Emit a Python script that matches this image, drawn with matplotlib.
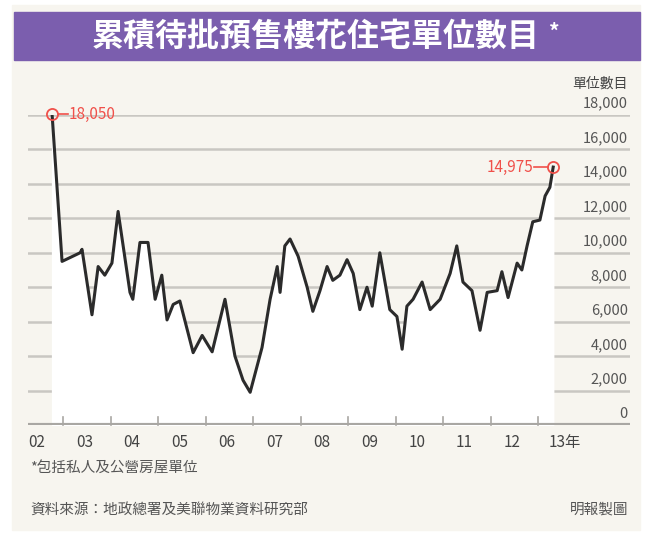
import matplotlib
matplotlib.use('Agg')
import matplotlib.pyplot as plt
from matplotlib.patches import Rectangle

plt.rcParams['font.family'] = ['Noto Sans CJK JP', 'Noto Sans CJK TC', 'DejaVu Sans']

# decimal year, units
years = [2002.77, 2002.98, 2003.36, 2003.40, 2003.61, 2003.74, 2003.88, 2004.03,
         2004.16, 2004.41, 2004.47, 2004.62, 2004.79, 2004.94, 2005.08, 2005.19,
         2005.32, 2005.46, 2005.74, 2005.93, 2006.14, 2006.41, 2006.62, 2006.79,
         2006.94, 2007.19, 2007.36, 2007.51, 2007.57, 2007.67, 2007.78, 2007.95,
         2008.14, 2008.26, 2008.41, 2008.56, 2008.68, 2008.83, 2008.98, 2009.11,
         2009.25, 2009.40, 2009.51, 2009.67, 2009.88, 2010.03, 2010.14, 2010.24,
         2010.37, 2010.56, 2010.73, 2010.94, 2011.15, 2011.29, 2011.42, 2011.61,
         2011.78, 2011.93, 2012.14, 2012.24, 2012.37, 2012.56, 2012.66, 2012.77,
         2012.89, 2013.04, 2013.15, 2013.25, 2013.32]
units = [18050, 9500, 10000, 10200, 6400, 9200, 8700, 9400,
         12400, 7700, 7300, 10600, 10600, 7300, 8700, 6100,
         7000, 7200, 4200, 5200, 4250, 7300, 4000, 2600,
         1900, 4500, 7300, 9200, 7700, 10400, 10800, 9800,
         8000, 6600, 7800, 9200, 8400, 8700, 9600, 8800,
         6700, 8000, 6900, 10000, 6700, 6300, 4400, 6900,
         7300, 8300, 6700, 7300, 8800, 10400, 8300, 7800,
         5500, 7700, 7800, 8900, 7400, 9400, 9000, 10400,
         11800, 11900, 13300, 13800, 14975]
yticks = [0, 2000, 4000, 6000, 8000, 10000, 12000, 14000, 16000, 18000]
year_labels = ['02', '03', '04', '05', '06', '07', '08', '09', '10', '11', '12', '13年']

cream = '#f7f5ef'
red = '#f0504a'
W, H = 648, 540

fig = plt.figure(figsize=(6.48, 5.4), dpi=100)

# background panel and title band
bg = fig.add_axes([0, 0, 1, 1], zorder=0)
bg.set_xlim(0, W)
bg.set_ylim(H, 0)
bg.axis('off')
bg.add_patch(Rectangle((12, 5), 628, 525, color=cream))
bg.add_patch(Rectangle((14, 12), 626, 48, color='#7b5eae'))
bg.text(316, 37, '累積待批預售樓花住宅單位數目', color='white', fontsize=23,
        fontweight='bold', ha='center', va='center')
bg.text(554, 32, '*', color='white', fontsize=15, fontweight='bold', ha='center', va='center')
bg.text(30, 468, '*包括私人及公營房屋單位', fontsize=10.5, color='#555555', va='center')
bg.text(30, 510, '資料來源：地政總署及美聯物業資料研究部', fontsize=10.5,
        color='#555555', va='center')
bg.text(628, 510, '明報製圖', fontsize=10.5, color='#555555', va='center', ha='right')

ax = fig.add_axes([28 / W, (H - 425) / H, 602 / W, 310 / H], zorder=1)
ax.set_facecolor(cream)
x0 = 2003 + (28 - 63) / 47.5
x1 = 2003 + (630 - 63) / 47.5
ax.set_xlim(x0, x1)
ax.set_ylim(0, 18000)
for s in ax.spines.values():
    s.set_visible(False)
ax.set_xticks([])
ax.set_yticks([])

for v in yticks[1:]:
    ax.axhline(v, color='#c9c7c2', lw=1.8, zorder=1)
    ax.text(x1 - 0.05, v + 250, f'{v:,}', ha='right', va='bottom', fontsize=10.5,
            color='#555555', zorder=3)
ax.text(x1 - 0.05, 250, '0', ha='right', va='bottom', fontsize=10.5, color='#555555', zorder=3)
ax.text(x1 - 0.05, 19400, '單位數目', ha='right', va='bottom', fontsize=10,
        color='#444444', clip_on=False)
ax.axhline(0, color='#a9a7a3', lw=3, zorder=4)

ax.fill_between(years, units, 0, color='white', zorder=2)
ax.plot(years, units, color='#2b2b2b', lw=2.2, zorder=5)

for yr in range(2003, 2014):
    ax.plot([yr, yr], [0, 450], color='#a9a7a3', lw=1.2, zorder=4, clip_on=False)
for i, lab in enumerate(year_labels):
    ax.text(2002.45 + i + (0.12 if i == 11 else 0), -500, lab, ha='center', va='top',
            fontsize=11, color='#444444', clip_on=False)

# highlighted points
ax.plot(years[0], units[0], 'o', ms=8, mfc='none', mec=red, mew=1.3, zorder=6, clip_on=False)
ax.plot([years[0] + 0.12, years[0] + 0.33], [units[0]] * 2, color=red, lw=1.2, zorder=6,
        clip_on=False)
ax.text(years[0] + 0.35, units[0], '18,050', color=red, fontsize=11, va='center', ha='left',
        zorder=6)
ax.plot(years[-1], units[-1], 'o', ms=8, mfc='none', mec=red, mew=1.3, zorder=6)
ax.plot([years[-1] - 0.12, years[-1] - 0.4], [units[-1]] * 2, color=red, lw=1.2, zorder=6)
ax.text(years[-1] - 0.42, units[-1], '14,975', color=red, fontsize=11, va='center', ha='right',
        zorder=6)

fig.savefig('out.png', dpi=100, facecolor='white')
